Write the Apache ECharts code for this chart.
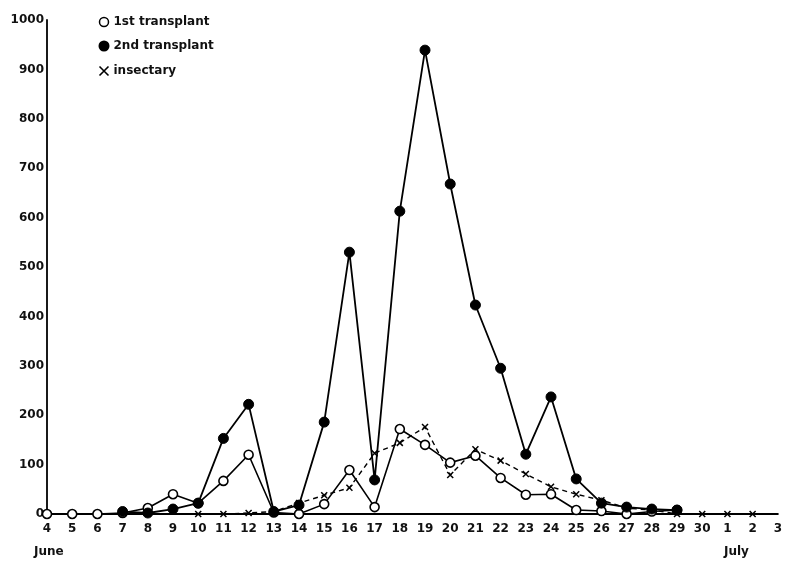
<!DOCTYPE html>
<html><head><meta charset="utf-8">
<script src="https://cdn.jsdelivr.net/npm/echarts@6/dist/echarts.min.js"></script>
<style>html,body{margin:0;padding:0;background:#fff}#c{width:785px;height:563px}</style>
</head><body><div id="c"></div>
<script>
const days = ['4','5','6','7','8','9','10','11','12','13','14','15','16','17','18','19','20','21','22','23','24','25','26','27','28','29','30','1','2','3'];
const monthLabels = ['June','July'];
const seriesNames = ['1st transplant','2nd transplant','insectary'];
const first = [0,0,0,2,12,40,22,67,120,3,0,20,89,14,172,140,104,118,73,39,40,8,6,0,5,8,null,null,null,null];
const second = [null,null,null,5,2,10,22,153,222,5,18,186,530,69,613,939,668,423,295,121,237,71,22,14,10,8,null,null,null,null];
const insectary = [null,null,null,null,null,null,0,0,2,5,22,38,53,123,144,176,79,131,108,81,55,40,28,12,8,0,0,0,0,null];
const yTicks = [0,100,200,300,400,500,600,700,800,900,1000];

const font = '"DejaVu Sans", Lato, sans-serif';
const crossPath = 'path://M0,0L10,10M10,0L0,10';
const chart = echarts.init(document.getElementById('c'));
chart.setOption({
  animation:false,
  backgroundColor:'#fff',
  grid:{left:47,right:6,top:20,bottom:49},
  legend:{
    orient:'vertical', left:92, top:11, itemGap:12, itemWidth:9, itemHeight:9,
    textStyle:{fontFamily:font,fontWeight:'bold',fontSize:12,color:'#111'},
    data:[
      {name:seriesNames[0],icon:'circle',itemStyle:{color:'#fff',borderColor:'#000',borderWidth:1.5}},
      {name:seriesNames[1],icon:'circle',itemStyle:{color:'#000'}},
      {name:seriesNames[2],icon:crossPath,itemStyle:{color:'none',borderColor:'#000',borderWidth:1.6}}
    ]
  },
  xAxis:{
    type:'category', data:days, boundaryGap:false,
    axisLine:{lineStyle:{color:'#000',width:2}},
    axisTick:{show:false},
    axisLabel:{interval:0,margin:9,color:'#111',fontFamily:font,fontWeight:'bold',fontSize:12}
  },
  yAxis:{
    type:'value', min:0, max:1000, interval:100,
    splitLine:{show:false},
    axisLine:{show:true,lineStyle:{color:'#000',width:1.8}},
    axisTick:{show:false},
    axisLabel:{margin:3,color:'#111',fontFamily:font,fontWeight:'bold',fontSize:12,
      formatter:v=>yTicks.includes(v)?String(v):''}
  },
  graphic:[
    {type:'text',left:34,top:546,style:{text:monthLabels[0],fontFamily:font,fontWeight:'bold',fontSize:12,fill:'#111'}},
    {type:'text',left:724,top:546,style:{text:monthLabels[1],fontFamily:font,fontWeight:'bold',fontSize:12,fill:'#111'}}
  ],
  series:[
    {name:seriesNames[0],type:'line',data:first,symbol:'circle',symbolSize:9,z:3,
     lineStyle:{color:'#000',width:1.6},itemStyle:{color:'#fff',borderColor:'#000',borderWidth:1.6}},
    {name:seriesNames[1],type:'line',data:second,symbol:'circle',symbolSize:10,z:4,
     lineStyle:{color:'#000',width:1.8},itemStyle:{color:'#000',borderColor:'#000',borderWidth:1}},
    {name:seriesNames[2],type:'line',data:insectary,symbol:crossPath,symbolSize:6,z:2,
     lineStyle:{color:'#000',width:1.4,type:[5,4]},itemStyle:{color:'none',borderColor:'#000',borderWidth:1.5}}
  ]
});
</script></body></html>
